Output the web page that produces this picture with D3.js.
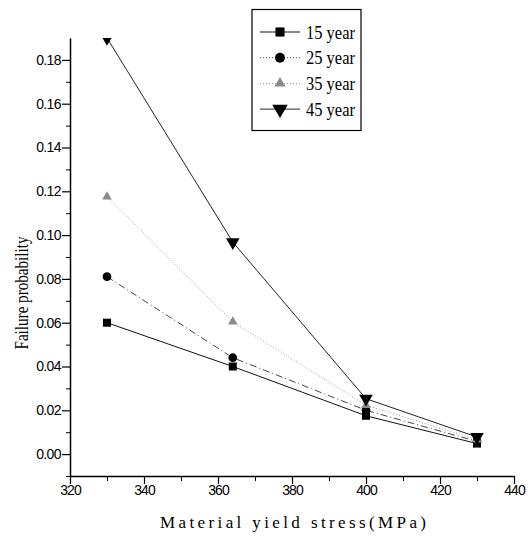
<!DOCTYPE html>
<html><head><meta charset="utf-8">
<script src="https://cdn.jsdelivr.net/npm/d3@7"></script>
<style>body{margin:0;background:#fff}svg{display:block}</style>
</head><body>
<svg id="c" width="531" height="542"></svg>
<script>
const stress = [330, 364, 400, 430];
const series = ["15 year", "25 year", "35 year", "45 year"];
const y15 = [0.060, 0.040, 0.0175, 0.0048];
const y25 = [0.081, 0.044, 0.020, 0.0058];
const y35 = [0.1175, 0.0604, 0.0223, 0.0066];
const y45 = [0.190, 0.0968, 0.0253, 0.0078];
const values = [y15, y25, y35, y45];
const xTicks = [320, 340, 360, 380, 400, 420, 440];
const yTicks = [0.00, 0.02, 0.04, 0.06, 0.08, 0.10, 0.12, 0.14, 0.16, 0.18];

const svg = d3.select("#c");
const x = d3.scaleLinear().domain([320, 440]).range([70, 514]);
const y = d3.scaleLinear().domain([-0.01, 0.19]).range([476, 38]);

const styles = [
  {stroke:"#111", dash:null, width:1, mfill:"#000", shape:d3.symbolSquare, size:64, rot:0},
  {stroke:"#444", dash:"7,3,1,3", width:1, mfill:"#000", shape:d3.symbolCircle, size:60, rot:0},
  {stroke:"#999", dash:"1,2", width:1, mfill:"#8a8a8a", shape:d3.symbolTriangle, size:40, rot:0},
  {stroke:"#222", dash:null, width:1, mfill:"#000", shape:d3.symbolTriangle, size:80, rot:180}
];

svg.append("defs").append("clipPath").attr("id","plot")
  .append("rect").attr("x",70).attr("y",38).attr("width",444).attr("height",438);

const tickFont = "Liberation Sans, Arial, sans-serif";
const xAxis = d3.axisBottom(x).tickValues(xTicks).tickFormat(d3.format("d")).tickSize(8).tickSizeOuter(0);
const gx = svg.append("g").attr("transform","translate(0,476)").call(xAxis);
gx.select(".domain").attr("stroke","#000").attr("stroke-width",1.5);
gx.selectAll(".tick line").attr("stroke","#000").attr("stroke-width",1.2);
gx.selectAll(".tick text").attr("font-family",tickFont).attr("font-size",14)
  .attr("letter-spacing","-0.9").attr("fill","#000").attr("dy","0.55em");
svg.append("g").attr("transform","translate(0,476)")
  .call(d3.axisBottom(x).tickValues(d3.range(330,440,20)).tickSize(5).tickFormat(""))
  .call(g=>g.select(".domain").remove())
  .selectAll("line").attr("stroke","#000");

const yAxis = d3.axisLeft(y).tickValues(yTicks).tickFormat(d3.format(".2f")).tickSize(8).tickSizeOuter(0);
const gy = svg.append("g").attr("transform","translate(70,0)").call(yAxis);
gy.select(".domain").attr("stroke","#000").attr("stroke-width",1.5);
gy.selectAll(".tick line").attr("stroke","#000").attr("stroke-width",1.2);
gy.selectAll(".tick text").attr("font-family",tickFont).attr("font-size",14)
  .attr("letter-spacing","-0.6").attr("fill","#000").attr("x",-9);
svg.append("g").attr("transform","translate(70,0)")
  .call(d3.axisLeft(y).tickValues(d3.range(-0.01,0.19,0.02)).tickSize(4).tickFormat(""))
  .call(g=>g.select(".domain").remove())
  .selectAll("line").attr("stroke","#000");

const plot = svg.append("g").attr("clip-path","url(#plot)");
const line = d3.line().x((d,i)=>x(stress[i])).y(d=>y(d));
values.forEach((vals,k)=>{
  const s = styles[k];
  plot.append("path").datum(vals).attr("d",line).attr("fill","none")
    .attr("stroke",s.stroke).attr("stroke-width",s.width).attr("stroke-dasharray",s.dash);
});
values.forEach((vals,k)=>{
  const s = styles[k];
  plot.selectAll(null).data(vals).enter().append("path")
    .attr("d",d3.symbol().type(s.shape).size(s.size))
    .attr("transform",(d,i)=>`translate(${x(stress[i])},${y(d)}) rotate(${s.rot})`)
    .attr("fill",s.mfill);
});

const lg = svg.append("g");
lg.append("rect").attr("x",252).attr("y",9.5).attr("width",109).attr("height",121)
  .attr("fill","#fff").attr("stroke","#000").attr("stroke-width",1.2);
const legDash = [null,"1,2","1,2",null];
series.forEach((name,k)=>{
  const s = styles[k];
  const cy = 32 + k*25.7;
  lg.append("line").attr("x1",260).attr("x2",300).attr("y1",cy).attr("y2",cy)
    .attr("stroke",s.stroke).attr("stroke-dasharray",legDash[k]);
  lg.append("path").attr("d",d3.symbol().type(s.shape).size(s.size*1.3))
    .attr("transform",`translate(280,${cy}) rotate(${s.rot})`).attr("fill",s.mfill);
  lg.append("text").attr("x",306).attr("y",cy).attr("dy","0.35em")
    .attr("font-family","Liberation Serif, Times New Roman, serif").attr("font-size",19)
    .attr("textLength",49).attr("lengthAdjust","spacingAndGlyphs").attr("fill","#000").text(name);
});

svg.append("text").attr("x",293).attr("y",528).attr("text-anchor","middle")
  .attr("font-family","Liberation Serif, Times New Roman, serif").attr("font-size",17)
  .attr("textLength",266).attr("lengthAdjust","spacing").attr("fill","#000")
  .text("Material yield stress(MPa)");
svg.append("text").attr("transform","translate(28,293) rotate(-90)").attr("text-anchor","middle")
  .attr("font-family","Liberation Serif, Times New Roman, serif").attr("font-size",18)
  .attr("textLength",113).attr("lengthAdjust","spacingAndGlyphs").attr("fill","#000")
  .text("Failure probability");
</script>
</body></html>
